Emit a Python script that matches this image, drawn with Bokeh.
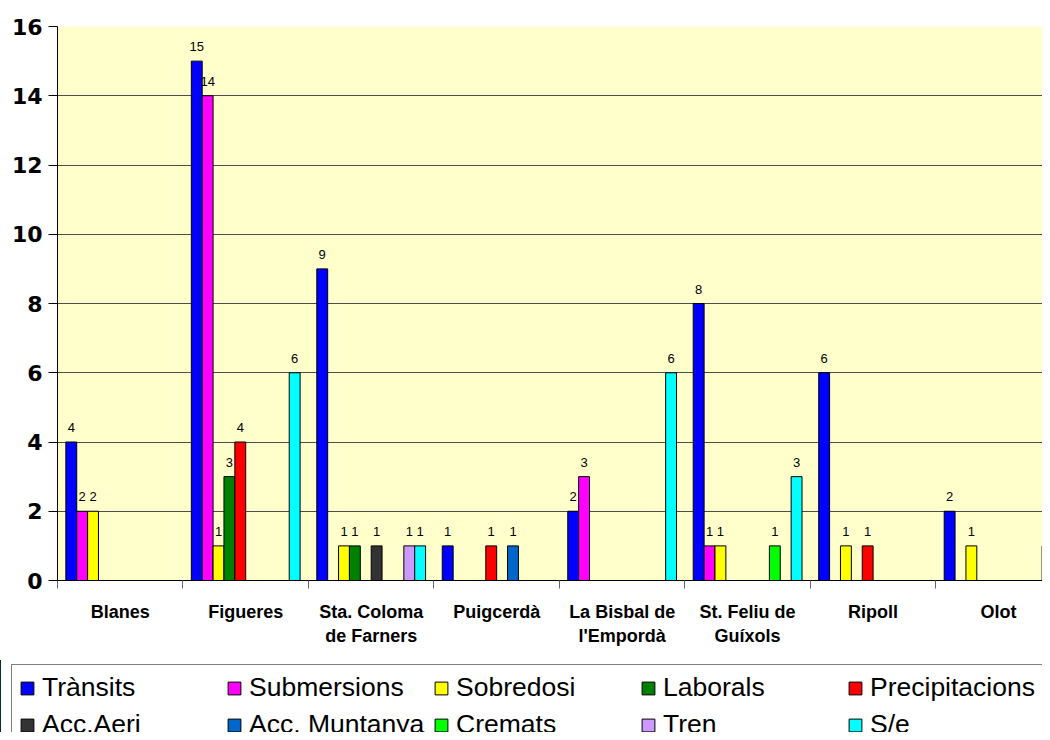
from bokeh.plotting import figure
from bokeh.models import (ColumnDataSource, Range1d, FixedTicker, LabelSet,
                          Legend, LegendItem)
from bokeh.core.properties import value
from bokeh.embed import file_html
from bokeh.resources import INLINE

# ---- data ----
categories = ["Blanes", "Figueres", "Sta. Coloma\nde Farners", "Puigcerdà",
              "La Bisbal de\nl'Empordà", "St. Feliu de\nGuíxols", "Ripoll", "Olot"]
series_names = ["Trànsits", "Submersions", "Sobredosi", "Laborals", "Precipitacions",
                "Acc.Aeri", "Acc. Muntanya", "Cremats", "Tren", "S/e"]
colors = ["#0000FF", "#FF00FF", "#FFFF00", "#008000", "#FF0000",
          "#333333", "#0066CC", "#00FF00", "#CC99FF", "#00FFFF"]

transits       = [4, 15, 9, 1, 2, 8, 6, 2]
submersions    = [2, 14, 0, 0, 3, 1, 0, 0]
sobredosi      = [2, 1, 1, 0, 0, 1, 1, 1]
laborals       = [0, 3, 1, 0, 0, 0, 0, 0]
precipitacions = [0, 4, 0, 1, 0, 0, 1, 0]
acc_aeri       = [0, 0, 1, 0, 0, 0, 0, 0]
acc_muntanya   = [0, 0, 0, 1, 0, 0, 0, 0]
cremats        = [0, 0, 0, 0, 0, 1, 0, 0]
tren           = [0, 0, 1, 0, 0, 0, 0, 0]
s_e            = [0, 6, 1, 0, 6, 3, 0, 1]

series_values = [transits, submersions, sobredosi, laborals, precipitacions,
                 acc_aeri, acc_muntanya, cremats, tren, s_e]

# ---- layout constants ----
n_ser = len(series_names)
bar_w = 0.0867
gap = (1 - n_ser * bar_w) / 2

p = figure(width=1042, height=660, output_backend="svg", toolbar_location=None,
           x_range=Range1d(0, 7.85), y_range=Range1d(0, 16),
           min_border_left=57, min_border_right=0, min_border_top=26,
           min_border_bottom=80)
p.background_fill_color = "#FFFFCC"
p.border_fill_color = "white"
p.outline_line_color = None

for j, (name, vals, col) in enumerate(zip(series_names, series_values, colors)):
    xs, ys, ts = [], [], []
    for i, v in enumerate(vals):
        if v:
            xs.append(i + gap + bar_w * (j + 0.5))
            ys.append(v)
            ts.append(str(v))
    src = ColumnDataSource(dict(x=xs, top=ys, t=ts))
    p.vbar(x="x", top="top", bottom=0, width=bar_w, source=src,
           fill_color=col, line_color="black", line_width=1)
    lbl = LabelSet(x="x", y="top", text="t", source=src, text_align="center",
                   text_baseline="alphabetic", y_offset=10,
                   text_font=value("Liberation Sans"), text_font_size=value("13px"),
                   text_color=value("black"))
    p.add_layout(lbl)

# ---- axes ----
p.yaxis.ticker = FixedTicker(ticks=list(range(0, 17, 2)))
p.yaxis.major_label_text_font = "DejaVu Sans"
p.yaxis.major_label_text_font_style = "bold"
p.yaxis.major_label_text_font_size = "22px"
p.yaxis.major_label_text_color = "black"
p.yaxis.major_tick_out = 9
p.yaxis.major_tick_in = 0
p.yaxis.minor_tick_out = 0
p.yaxis.minor_tick_in = 0
p.yaxis.major_label_standoff = 6
p.yaxis.axis_line_color = "black"
p.yaxis.major_tick_line_color = "black"

centers = [i + 0.5 for i in range(len(categories))]
bounds = [i for i in range(len(categories) + 1)]
p.xaxis.ticker = FixedTicker(ticks=centers, minor_ticks=bounds)
p.xaxis.major_label_overrides = {c: lab for c, lab in zip(centers, categories)}
p.xaxis.major_tick_out = 0
p.xaxis.major_tick_in = 0
p.xaxis.minor_tick_out = 8
p.xaxis.minor_tick_in = 0
p.xaxis.minor_tick_line_color = "#666666"
p.xaxis.axis_line_color = "black"
p.xaxis.major_label_text_font = "Liberation Sans"
p.xaxis.major_label_text_font_style = "bold"
p.xaxis.major_label_text_font_size = "18px"
p.xaxis.major_label_text_color = "black"
p.xaxis.major_label_text_line_height = 1.22
p.xaxis.major_label_standoff = 13

p.xgrid.grid_line_color = None
p.ygrid.ticker = FixedTicker(ticks=list(range(2, 17, 2)))
p.ygrid.grid_line_color = "#4d4d4d"
p.ygrid.grid_line_width = 1

# ---- legend figure (box runs past the bottom edge, as in the reference) ----
lg = figure(width=1042, height=72, output_backend="svg", toolbar_location=None,
            x_range=Range1d(0, 1), y_range=Range1d(0, 1),
            x_axis_type=None, y_axis_type=None,
            min_border_left=0, min_border_right=0, min_border_top=0,
            min_border_bottom=0)
lg.outline_line_color = None
lg.xgrid.visible = False
lg.ygrid.visible = False
items = []
for name, col in zip(series_names, colors):
    r = lg.vbar(x=[-5], top=[1], width=0.1, fill_color=col, line_color="black",
                line_width=1)
    items.append(LegendItem(label=name, renderers=[r]))

legend = Legend(items=items, orientation="horizontal", ncols=5,
                location=(11, -16),
                label_text_font="Liberation Sans", label_text_font_size="26.5px",
                label_text_color="black",
                glyph_width=16, glyph_height=16, label_standoff=7,
                label_width=178, label_height=29, spacing=6, padding=7,
                border_line_color="black", border_line_width=1,
                background_fill_color="white", background_fill_alpha=1.0,
                margin=0)
lg.add_layout(legend)

open("out.html", "w").write(file_html([p, lg], INLINE))
